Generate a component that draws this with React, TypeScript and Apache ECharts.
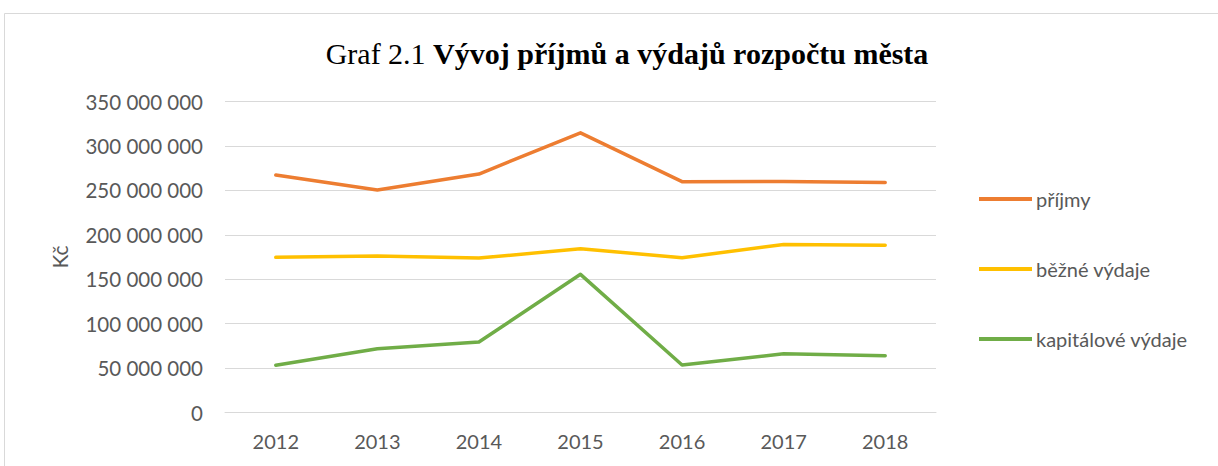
import React, { useEffect, useRef } from "react";
import * as echarts from "echarts";

const years = ["2012", "2013", "2014", "2015", "2016", "2017", "2018"];
const prijmy = [267300000, 250400000, 268400000, 314700000, 259800000, 260100000, 258800000];
const bezneVydaje = [174600000, 176000000, 173800000, 184300000, 174200000, 189100000, 188300000];
const kapitaloveVydaje = [53100000, 71700000, 79300000, 155500000, 53500000, 66100000, 63900000];
const seriesNames = ["příjmy", "běžné výdaje", "kapitálové výdaje"];
const colors = ["#ED7D31", "#FFC000", "#70AD47"];

const fmt = (v: number) => String(v).replace(/\B(?=(\d{3})+(?!\d))/g, " ");

export default function App() {
  const ref = useRef<HTMLDivElement>(null);
  useEffect(() => {
    if (!ref.current) return;
    const chart = echarts.init(ref.current, undefined, { renderer: "svg" });
    const font = "Lato, 'Liberation Sans', sans-serif";
    const dataSets = [prijmy, bezneVydaje, kapitaloveVydaje];
    chart.setOption({
      animation: false,
      backgroundColor: "#fff",
      title: {
        text: "{n|Graf 2.1 }{b|Vývoj příjmů a výdajů rozpočtu města}",
        left: 622,
        top: 33,
        textAlign: "center",
        textStyle: {
          rich: {
            n: { fontFamily: "'Liberation Serif', serif", fontSize: 30, color: "#000", fontWeight: "normal" },
            b: { fontFamily: "'Liberation Serif', serif", fontSize: 30, color: "#000", fontWeight: "bold" },
          },
        },
      },
      graphic: [
        {
          type: "rect",
          shape: { x: 4.5, y: 13.5, width: 1230, height: 470 },
          style: { fill: "none", stroke: "#d9d9d9", lineWidth: 1 },
          silent: true,
        },
      ],
      legend: {
        orient: "vertical",
        left: 974,
        top: 184,
        itemGap: 50,
        itemWidth: 53,
        itemHeight: 4,
        icon: "rect",
        textStyle: { fontFamily: font, fontSize: 20, color: "#595959", padding: [0, 0, 0, -1] },
        data: seriesNames,
      },
      grid: { left: 225, right: 282, top: 101.5, bottom: 53.5, containLabel: false },
      xAxis: {
        type: "category",
        data: years,
        boundaryGap: true,
        axisLine: { show: true, lineStyle: { color: "#d9d9d9", width: 1 } },
        axisTick: { show: false },
        axisLabel: { fontFamily: font, fontSize: 20, color: "#595959", margin: 18 },
      },
      yAxis: {
        type: "value",
        min: 0,
        max: 350000000,
        interval: 50000000,
        name: "Kč",
        nameLocation: "middle",
        nameRotate: 90,
        nameGap: 155,
        nameTextStyle: { fontFamily: font, fontSize: 21, color: "#595959" },
        axisLine: { show: false },
        axisTick: { show: false },
        splitLine: { lineStyle: { color: "#d9d9d9", width: 1 } },
        axisLabel: { fontFamily: font, fontSize: 20.5, color: "#595959", margin: 22, formatter: (v: number) => fmt(v) },
      },
      series: dataSets.map((d, i) => ({
        name: seriesNames[i],
        type: "line",
        data: d,
        symbol: "none",
        color: colors[i],
        lineStyle: { width: 3.5, color: colors[i], cap: "round", join: "round" },
      })),
    });
    return () => chart.dispose();
  }, []);
  return <div ref={ref} style={{ position: "fixed", left: 0, top: 0, width: 1218, height: 466 }} />;
}
